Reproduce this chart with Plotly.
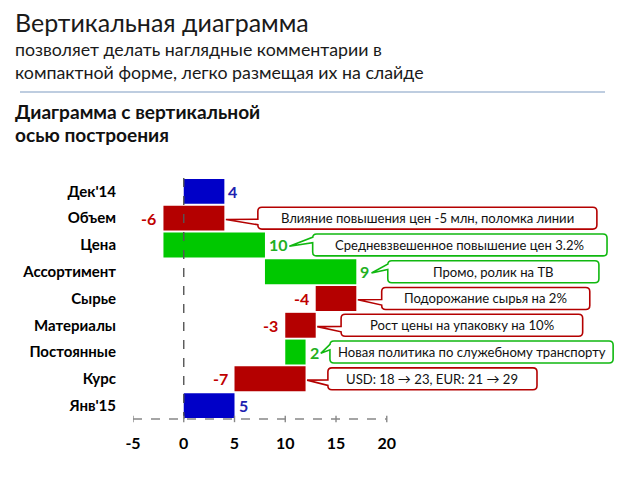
#!/usr/bin/env python3
# -*- coding: utf-8 -*-

import plotly.graph_objects as go

# data
categories = ["Дек'14", "Объем", "Цена", "Ассортимент", "Сырье",
              "Материалы", "Постоянные", "Курс", "Янв'15"]
changes = [4, -6, 10, 9, -4, -3, 2, -7, 5]
is_total = [True, False, False, False, False, False, False, False, True]
comments = [None,
            "Влияние повышения цен -5 млн, поломка линии",
            "Средневзвешенное повышение цен 3.2%",
            "Промо, ролик на ТВ",
            "Подорожание сырья на 2%",
            "Рост цены на упаковку на 10%",
            "Новая политика по служебному транспорту",
            "USD: 18 → 23, EUR: 21 → 29",
            None]
x_ticks = [-5, 0, 5, 10, 15, 20]

# callout box extents along x (layout only)
box_left = [None, 7.3, 12.7, 20.1, 19.5, 15.5, 14.4, 14.2, None]
box_right = [None, 40.7, 41.7, 40.9, 40.0, 39.3, 42.3, 34.8, None]

FONT = "Lato"
BLUE, RED, GREEN = "#0000C8", "#B40000", "#00C800"
BLUE_T, RED_T, GREEN_T = "#2020B0", "#C00000", "#22B022"
GREEN_LINE = "#10B810"

# page has 8px body margin -> figure drawn 8px in from the window edge
OFF = 8
W, H = 622, 462
ML, MR, MT, MB = 125, 5, 170, 43
X0, X1 = -5, 43.47
Y_TOP, Y_BOT = -0.5, 8.8


def px2paper(px, py):
    # reference window pixels -> paper coords
    px, py = px - OFF, py - OFF
    return ((px - ML) / (W - ML - MR), (H - MB - py) / (H - MT - MB))


# waterfall bases
bases, ends = [], []
run = 0
for ch, tot in zip(changes, is_total):
    b = 0 if tot else run
    bases.append(b)
    ends.append(b + ch)
    run = b + ch

colors = [BLUE if t else (GREEN if c > 0 else RED)
          for c, t in zip(changes, is_total)]
ypos = list(range(len(categories)))

fig = go.Figure()
fig.add_trace(go.Bar(y=ypos, x=changes, base=bases, orientation='h',
                     marker=dict(color=colors, line=dict(width=0)),
                     width=0.93, hoverinfo='skip'))

shapes = []
annotations = []

# value labels
for i, (ch, tot) in enumerate(zip(changes, is_total)):
    tcol = BLUE_T if tot else (GREEN_T if ch > 0 else RED_T)
    if ch > 0:
        annotations.append(dict(x=ends[i], y=i, text="<b>%d</b>" % ch,
                                xanchor='left', xshift=2, showarrow=False,
                                font=dict(size=16, color=tcol, family=FONT)))
    else:
        annotations.append(dict(x=ends[i], y=i, text="<b>%d</b>" % ch,
                                xanchor='right', xshift=-5, showarrow=False,
                                font=dict(size=16, color=tcol, family=FONT)))

# callouts
rx, ry = 0.4, 0.15
for i, txt in enumerate(comments):
    if txt is None:
        continue
    ch = changes[i]
    if ch > 0:
        tip_x = ends[i] + 0.6 + 0.9 * len(str(ch))
        lc = GREEN_LINE
        f0, f1 = 0.15, 0.4
    else:
        tip_x = max(bases[i], ends[i]) + 0.15
        lc = RED
        f0, f1 = 0.55, 0.8
    xl, xr = box_left[i], box_right[i]
    yt, yb = i - 0.41, i + 0.41
    h = yb - yt
    a0, a1 = yt + f0 * h, yt + f1 * h
    tip_y = i + 0.05
    path = (f"M {xl+rx},{yt} L {xr-rx},{yt} Q {xr},{yt} {xr},{yt+ry} "
            f"L {xr},{yb-ry} Q {xr},{yb} {xr-rx},{yb} "
            f"L {xl+rx},{yb} Q {xl},{yb} {xl},{yb-ry} "
            f"L {xl},{a1} L {tip_x},{tip_y} L {xl},{a0} "
            f"L {xl},{yt+ry} Q {xl},{yt} {xl+rx},{yt} Z")
    shapes.append(dict(type='path', path=path, xref='x', yref='y',
                       fillcolor='white', line=dict(color=lc, width=1.6),
                       layer='above'))
    annotations.append(dict(x=(xl + xr) / 2, y=i, text=txt, showarrow=False,
                            xanchor='center',
                            font=dict(size=13.1, color='#111111', family=FONT)))

# zero line and dashed axis
shapes.append(dict(type='line', xref='x', yref='y', x0=0, x1=0, y0=-0.5,
                   y1=8.5, line=dict(color='#555555', width=1.4, dash='dash'),
                   layer='above'))
shapes.append(dict(type='line', xref='x', yref='y', x0=x_ticks[0],
                   x1=x_ticks[-1], y0=8.5, y1=8.5,
                   line=dict(color='#888888', width=1.6, dash='dash')))
for t in x_ticks:
    shapes.append(dict(type='line', xref='x', yref='y', x0=t, x1=t,
                       y0=8.38, y1=8.62, line=dict(color='#888888', width=1.4)))

# header
hdr = [("Вертикальная диаграмма", 22, 25, False, '#1a1a1a'),
       ("позволяет делать наглядные комментарии в", 49, 17.8, False, '#1a1a1a'),
       ("компактной форме, легко размещая их на слайде", 72, 17.8, False, '#1a1a1a'),
       ("Диаграмма с вертикальной", 111, 19.1, True, '#111111'),
       ("осью построения", 134, 19.1, True, '#111111')]
for txt, py, size, bold, col in hdr:
    px_, py_ = px2paper(13, py)
    annotations.append(dict(x=px_, y=py_, xref='paper', yref='paper',
                            text="<b>%s</b>" % txt if bold else txt,
                            xanchor='left', yanchor='middle', showarrow=False,
                            font=dict(size=size, color=col, family=FONT)))
lx0, ly = px2paper(20, 92)
lx1, _ = px2paper(605, 92)
shapes.append(dict(type='line', xref='paper', yref='paper', x0=lx0, x1=lx1,
                   y0=ly, y1=ly, line=dict(color='#A9BCD6', width=1.5)))

fig.update_layout(width=W, height=H, margin=dict(l=ML, r=MR, t=MT, b=MB),
                  plot_bgcolor='white', paper_bgcolor='white',
                  showlegend=False, bargap=0.07, shapes=shapes,
                  annotations=annotations,
                  font=dict(family=FONT, color='black'))
fig.update_xaxes(range=[X0, X1], tickvals=x_ticks,
                 ticktext=["<b>%d</b>" % t for t in x_ticks],
                 showgrid=False, zeroline=False, showline=False,
                 tickfont=dict(size=16, family=FONT, color='black'),
                 ticklabelstandoff=5)
fig.update_yaxes(range=[Y_BOT, Y_TOP], tickvals=ypos,
                 ticktext=["<b>%s</b>" % c for c in categories],
                 showgrid=False, zeroline=False, showline=False,
                 tickfont=dict(size=15, family=FONT, color='black'),
                 ticklabelstandoff=16)

fig.write_html("out.html")
